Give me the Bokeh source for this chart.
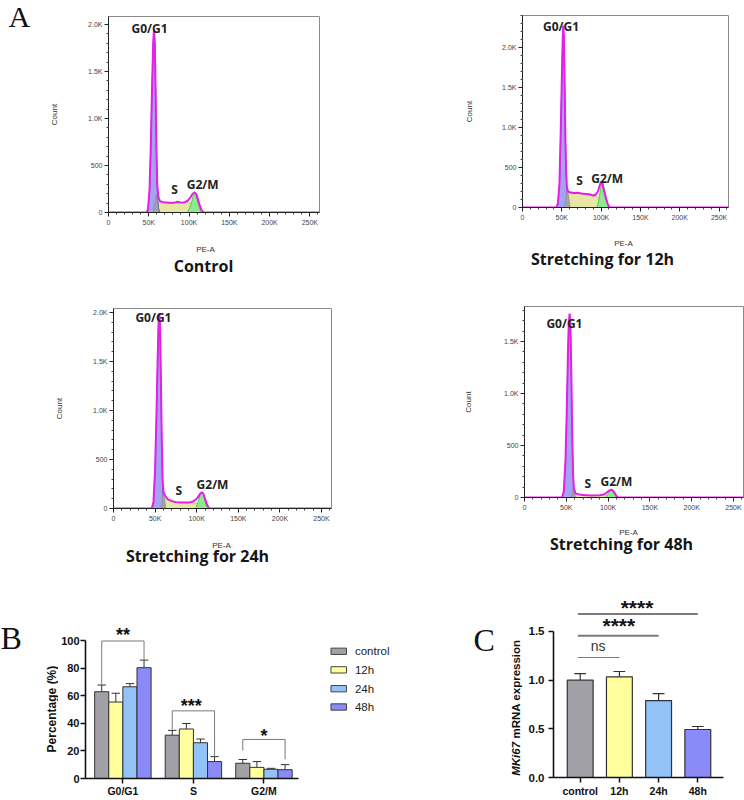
import math
from bokeh.plotting import figure
from bokeh.layouts import row, column
from bokeh.models import Range1d, FixedTicker
from bokeh.core.properties import value
from bokeh.embed import file_html
from bokeh.resources import INLINE

# ---------------- Panel A data (x: PE-A in thousands, y: count) ----------------
CTRL_TOT_X = [0, 47, 49, 51, 52.5, 54, 55.5, 56.5, 57.5, 58.5, 59.5, 60.5, 62, 64, 68, 75, 82, 86, 90, 95, 99, 102, 104.5, 107, 109, 111, 113, 115.5, 118, 262]
CTRL_TOT_Y = [0, 0, 30, 250, 700, 1300, 1800, 1950, 1800, 1300, 700, 300, 160, 120, 110, 105, 105, 115, 105, 110, 130, 165, 200, 215, 195, 140, 80, 25, 0, 0]
CTRL_G1_X = [47, 49, 51, 52.5, 54, 55.5, 56.5, 57.5, 58.5, 59.5, 60.5, 62, 63.5]
CTRL_G1_Y = [0, 25, 240, 690, 1290, 1790, 1940, 1790, 1290, 690, 260, 60, 0]
CTRL_GRAY_X = [55.5, 59.5, 62.5]
CTRL_GRAY_Y = [0, 190, 0]
CTRL_S_X = [58, 60, 62, 65, 70, 78, 86, 94, 100, 103, 106, 108]
CTRL_S_Y = [0, 150, 140, 110, 103, 100, 105, 105, 110, 95, 45, 0]
CTRL_G2_X = [98, 101, 103.5, 105.5, 107, 108.5, 110.5, 112.5, 115]
CTRL_G2_Y = [0, 50, 120, 185, 210, 190, 130, 60, 0]
CTRL_GATE_X = [51, 82, 117]
CTRL_GATE_Y = [1957, 245, 298]

H12_TOT_X = [0, 43, 45, 47, 48.5, 50, 51, 51.8, 52.6, 53.5, 54.5, 55.5, 56.5, 58, 60, 65, 70, 75, 80, 85, 90, 93, 96, 98, 99.8, 101.5, 103.5, 106, 108.5, 111, 262]
H12_TOT_Y = [0, 0, 50, 300, 900, 1600, 2050, 2270, 2150, 1600, 900, 450, 250, 200, 190, 180, 185, 175, 170, 165, 150, 160, 200, 270, 320, 300, 220, 120, 40, 0, 0]
H12_G1_X = [43, 45, 47, 48.5, 50, 51, 51.8, 52.6, 53.5, 54.5, 55.5, 56.5, 58, 60]
H12_G1_Y = [0, 45, 290, 890, 1590, 2040, 2260, 2140, 1590, 890, 430, 200, 60, 0]
H12_GRAY_X = [53.5, 57, 60.5]
H12_GRAY_Y = [0, 250, 0]
H12_S_X = [55, 57, 60, 65, 70, 75, 80, 85, 90, 94, 97, 100, 102, 104]
H12_S_Y = [0, 200, 185, 175, 180, 170, 165, 160, 145, 140, 125, 80, 30, 0]
H12_G2_X = [95, 97, 99, 100.5, 102, 104, 106, 108, 110.5]
H12_G2_Y = [0, 90, 220, 300, 310, 240, 140, 55, 0]
H12_GATE_X = [49, 72.5, 107.7]
H12_GATE_Y = [2262, 337, 359]

H24_TOT_X = [0, 46, 48, 50, 51.5, 53, 54, 55, 56, 57, 58, 59, 60, 62, 65, 70, 75, 80, 85, 90, 95, 99, 102, 104, 106, 108, 110, 112, 115, 262]
H24_TOT_Y = [0, 0, 60, 400, 900, 1500, 1850, 1990, 1850, 1300, 700, 300, 170, 130, 95, 75, 65, 60, 60, 60, 70, 90, 120, 150, 165, 150, 100, 45, 0, 0]
H24_G1_X = [46, 48, 50, 51.5, 53, 54, 55, 56, 57, 58, 59, 60, 61.5]
H24_G1_Y = [0, 55, 390, 890, 1490, 1840, 1980, 1840, 1290, 690, 250, 60, 0]
H24_GRAY_X = [57, 60, 63]
H24_GRAY_Y = [0, 180, 0]
H24_S_X = [58, 60, 63, 67, 72, 80, 88, 95, 100, 103, 106]
H24_S_Y = [0, 165, 120, 85, 70, 62, 58, 60, 55, 25, 0]
H24_G2_X = [99, 101.5, 104, 106, 108, 110, 113]
H24_G2_Y = [0, 65, 130, 160, 140, 80, 0]
H24_GATE_X = [48, 78.5, 119]
H24_GATE_Y = [1945, 184, 245]

H48_TOT_X = [0, 45, 47, 49, 50.5, 52, 53, 54, 55, 56, 57, 58, 59, 61, 65, 70, 80, 90, 95, 98, 101, 104, 106, 108, 110, 112, 262]
H48_TOT_Y = [0, 0, 60, 350, 800, 1400, 1680, 1770, 1650, 1200, 650, 250, 90, 40, 30, 25, 20, 22, 30, 45, 65, 75, 65, 40, 15, 0, 0]
H48_G1_X = [45, 47, 49, 50.5, 52, 53, 54, 55, 56, 57, 58, 59, 60.5]
H48_G1_Y = [0, 55, 340, 790, 1390, 1670, 1760, 1640, 1190, 640, 240, 80, 0]
H48_GRAY_X = [56, 58.5, 61]
H48_GRAY_Y = [0, 90, 0]
H48_S_X = [58, 60, 63, 70, 80, 90, 96, 100, 103]
H48_S_Y = [0, 45, 30, 22, 18, 20, 22, 15, 0]
H48_G2_X = [97, 100, 102, 104, 106, 108, 111]
H48_G2_Y = [0, 35, 60, 72, 60, 30, 0]
H48_GATE_X = [47.8, 75.7, 110]
H48_GATE_Y = [1677, 138, 157]

GATE_TEXT = ["G0/G1", "S", "G2/M"]
PANEL_TITLES = ["Control", "Stretching for 12h", "Stretching for 24h", "Stretching for 48h"]
HIST_X_TICKS = [0, 50, 100, 150, 200, 250]
HIST_X_LABELS = ["0", "50K", "100K", "150K", "200K", "250K"]
HIST_Y_TICKS = [0, 500, 1000, 1500, 2000]
HIST_Y_LABELS = ["0", "500", "1.0K", "1.5K", "2.0K"]

# ---------------- Panel B data ----------------
B_PHASES = ["G0/G1", "S", "G2/M"]
B_SERIES = ["control", "12h", "24h", "48h"]
B_CONTROL = [63.1, 31.5, 11.1]
B_CONTROL_SD = [4.9, 3.5, 2.7]
B_12H = [55.6, 36.0, 8.1]
B_12H_SD = [6.4, 4.0, 4.2]
B_24H = [66.7, 26.0, 6.7]
B_24H_SD = [2.3, 2.7, 0.7]
B_48H = [80.6, 12.3, 6.4]
B_48H_SD = [5.5, 3.6, 3.7]
B_Y_TICKS = [0, 20, 40, 60, 80, 100]
B_SIG_TEXT = ["**", "***", "*"]
B_SIG_TOP = [100.0, 49.2, 28.4]
B_SIG_LEFT_END = [68.5, 35.5, 20.3]
B_SIG_RIGHT_END = [86.5, 16.0, 14.0]
B_SIG_TEXT_Y = [104.5, 52.6, 31.2]

# ---------------- Panel C data ----------------
C_GROUPS = ["control", "12h", "24h", "48h"]
C_MEAN = [1.00, 1.034, 0.79, 0.493]
C_SD = [0.068, 0.055, 0.072, 0.031]
C_Y_TICKS = [0, 0.5, 1.0, 1.5]
C_Y_LABELS = ["0.0", "0.5", "1.0", "1.5"]
C_SIG_TEXT = ["ns", "****", "****"]
C_SIG_TO = [1, 2, 3]
C_SIG_Y = [1.233, 1.456, 1.68]
C_SIG_TEXT_X = [0.46, 0.985, 1.45]
C_SIG_TEXT_Y = [1.35, 1.563, 1.751]

BAR_COLORS = ["#a0a0a6", "#ffff9e", "#92c2f8", "#8a8af8"]

MAGENTA = "#e61ee6"
BLUE_FILL = "#a2a4f2"
BLUE_EDGE = "#5c5ce8"
GRAY_FILL = "#a4a4a4"
YELLOW_FILL = "#e6e6a6"
YELLOW_EDGE = "#b8b870"
GREEN_FILL = "#8eea8e"
GREEN_EDGE = "#3cbc3c"

SERIF = "Liberation Serif"
SANS = "Liberation Sans"
HEAVY = "Open Sans"


def blank(width, height, y_range=None, bt=0, bb=0):
    """An axis-less figure used only to hold annotation texts."""
    yr = y_range if y_range is not None else Range1d(0, height)
    p = figure(width=width, height=height, x_range=Range1d(0, width), y_range=yr,
               x_axis_type=None, y_axis_type=None, toolbar_location=None,
               output_backend="svg", title=None, min_border_left=0, min_border_right=0,
               min_border_top=bt, min_border_bottom=bb, frame_align=False)
    p.grid.visible = False
    p.outline_line_color = None
    return p


def caption(width, height, pea_x, pea_y, title, title_x, title_y):
    p = blank(width, height)
    p.text(x=[pea_x], y=[pea_y], text=["PE-A"], text_font=value(SANS), text_font_size="8px",
           text_align="center", text_baseline="middle", text_color="#333333")
    p.text(x=[title_x], y=[title_y], text=[title], text_font=value(HEAVY),
           text_font_style="bold", text_font_size="16px", text_align="center",
           text_baseline="middle", text_color="#161616")
    return p


def hist_panel(width, height, bl, br, bt, ymax, tot, g1, gray, s, g2, gates, count_standoff):
    p = figure(width=width, height=height, x_range=Range1d(0, 262), y_range=Range1d(0, ymax),
               toolbar_location=None, output_backend="svg", title=None,
               min_border_left=bl, min_border_right=br, min_border_top=bt, min_border_bottom=20,
               frame_align=False)
    p.grid.visible = False
    p.outline_line_color = "#8a8a8a"
    p.outline_line_width = 1

    p.varea(x=s[0], y1=0, y2=s[1], fill_color=YELLOW_FILL)
    p.line(s[0], s[1], line_color=YELLOW_EDGE, line_width=0.8)
    p.varea(x=g2[0], y1=0, y2=g2[1], fill_color=GREEN_FILL)
    p.line(g2[0], g2[1], line_color=GREEN_EDGE, line_width=0.8)
    p.varea(x=g1[0], y1=0, y2=g1[1], fill_color=BLUE_FILL)
    p.line(g1[0], g1[1], line_color=BLUE_EDGE, line_width=1)
    p.patch(gray[0], gray[1], fill_color=GRAY_FILL, line_color="#888888", line_width=0.6)
    p.line(tot[0], tot[1], line_color=MAGENTA, line_width=2)

    p.text(x=gates[0], y=gates[1], text=GATE_TEXT, text_font=value(HEAVY),
           text_font_style="bold", text_font_size="12px", text_align="center",
           text_baseline="middle", text_color="#222222")

    yt = [t for t in HIST_Y_TICKS if t <= ymax]
    p.xaxis.ticker = FixedTicker(ticks=HIST_X_TICKS,
                                 minor_ticks=[v for v in range(0, 261, 10) if v % 50])
    p.xaxis.major_label_overrides = dict(zip(HIST_X_TICKS, HIST_X_LABELS))
    p.yaxis.ticker = FixedTicker(ticks=yt,
                                 minor_ticks=[v for v in range(0, int(ymax) + 1, 100) if v % 500])
    p.yaxis.major_label_overrides = dict(zip(HIST_Y_TICKS, HIST_Y_LABELS))
    for ax in (p.xaxis, p.yaxis):
        ax.axis_line_color = "#222222"
        ax.axis_line_width = 1
        ax.major_tick_line_color = "#222222"
        ax.minor_tick_line_color = "#444444"
        ax.major_tick_out = 4
        ax.major_tick_in = 0
        ax.minor_tick_out = 2
        ax.minor_tick_in = 0
        ax.major_label_text_font = SANS
        ax.major_label_text_font_size = "7px"
        ax.major_label_text_color = "#444444"
        ax.major_label_standoff = 2
    p.yaxis.axis_label = "Count"
    p.yaxis.axis_label_text_font = SANS
    p.yaxis.axis_label_text_font_size = "8px"
    p.yaxis.axis_label_text_font_style = "normal"
    p.yaxis.axis_label_text_color = "#333333"
    p.yaxis.axis_label_standoff = count_standoff
    return p


# ---------------- Row 1 (page y 0..298) ----------------
stripA = blank(40, 298)
stripA.text(x=[8], y=[282], text=["A"], text_font=value(SERIF), text_font_size="30px",
            text_align="left", text_baseline="middle", text_color="#111111")

fA1 = hist_panel(340, 232, 68, 61, 16, 2085,
                 (CTRL_TOT_X, CTRL_TOT_Y), (CTRL_G1_X, CTRL_G1_Y), (CTRL_GRAY_X, CTRL_GRAY_Y),
                 (CTRL_S_X, CTRL_S_Y), (CTRL_G2_X, CTRL_G2_Y), (CTRL_GATE_X, CTRL_GATE_Y), 26)
cA1 = caption(340, 66, 165, 49, PANEL_TITLES[0], 163, 33)

fA2 = hist_panel(364, 227, 142, 16, 15, 2400,
                 (H12_TOT_X, H12_TOT_Y), (H12_G1_X, H12_G1_Y), (H12_GRAY_X, H12_GRAY_Y),
                 (H12_S_X, H12_S_Y), (H12_G2_X, H12_G2_Y), (H12_GATE_X, H12_GATE_Y), 25)
cA2 = caption(364, 71, 243, 55, PANEL_TITLES[1], 222, 39.5)

# ---------------- Row 2 (page y 298..573) ----------------
fA3 = hist_panel(380, 230, 113, 49, 10, 2040,
                 (H24_TOT_X, H24_TOT_Y), (H24_G1_X, H24_G1_Y), (H24_GRAY_X, H24_GRAY_Y),
                 (H24_S_X, H24_S_Y), (H24_G2_X, H24_G2_Y), (H24_GATE_X, H24_GATE_Y), 26)
cA3 = caption(380, 45, 221, 28, PANEL_TITLES[2], 197, 17.5)

fA4 = hist_panel(364, 219, 144, 1, 8, 1837,
                 (H48_TOT_X, H48_TOT_Y), (H48_G1_X, H48_G1_Y), (H48_GRAY_X, H48_GRAY_Y),
                 (H48_S_X, H48_S_Y), (H48_G2_X, H48_G2_Y), (H48_GATE_X, H48_GATE_Y), 28)
cA4 = caption(364, 56, 248, 41, PANEL_TITLES[3], 241, 30)

# ---------------- Panel B (page y 573..800) ----------------
B_YMAX = 114.9
pB = figure(width=402, height=227, x_range=Range1d(-0.53, 3.936), y_range=Range1d(0, B_YMAX),
            toolbar_location=None, output_backend="svg", title=None, frame_align=False,
            min_border_left=26, min_border_right=60, min_border_top=47, min_border_bottom=22)
pB.grid.visible = False
pB.outline_line_color = None
B_VALUES = [B_CONTROL, B_12H, B_24H, B_48H]
B_SDS = [B_CONTROL_SD, B_12H_SD, B_24H_SD, B_48H_SD]
B_OFFSETS = [-0.3, -0.1, 0.1, 0.3]
for i in range(4):
    xs = [g + B_OFFSETS[i] for g in range(3)]
    tops = [m + s for m, s in zip(B_VALUES[i], B_SDS[i])]
    pB.segment(x0=xs, y0=B_VALUES[i], x1=xs, y1=tops, line_color="#333333", line_width=1)
    pB.segment(x0=[x - 0.06 for x in xs], y0=tops, x1=[x + 0.06 for x in xs], y1=tops,
               line_color="#333333", line_width=1)
    pB.vbar(x=xs, top=B_VALUES[i], width=0.2, fill_color=BAR_COLORS[i],
            line_color="#333333", line_width=1)

br_xs = [[g - 0.3, g - 0.3, g + 0.3, g + 0.3] for g in range(3)]
br_ys = [[B_SIG_LEFT_END[g], B_SIG_TOP[g], B_SIG_TOP[g], B_SIG_RIGHT_END[g]] for g in range(3)]
pB.multi_line(xs=br_xs, ys=br_ys, line_color="#7a7a7a", line_width=1)
pB.text(x=[0, 0.97, 2.0], y=B_SIG_TEXT_Y, text=B_SIG_TEXT,
        text_font=value(SANS), text_font_style="bold", text_font_size="18px",
        text_align="center", text_baseline="alphabetic", text_color="#111111")

LEG_Y = [92.5, 79.0, 65.3, 52.0]
pB.quad(left=[2.95] * 4, right=[3.17] * 4, bottom=[v - 2.3 for v in LEG_Y],
        top=[v + 2.3 for v in LEG_Y], fill_color=BAR_COLORS, line_color="#444444", line_width=1)
pB.text(x=[3.29] * 4, y=LEG_Y, text=B_SERIES, text_font=value(SANS), text_font_size="11.5px",
        text_align="left", text_baseline="middle", text_color="#222222")

pB.yaxis.ticker = FixedTicker(ticks=B_Y_TICKS)
pB.yaxis.bounds = (0, 100)
pB.xaxis.ticker = FixedTicker(ticks=[0, 1, 2])
pB.xaxis.major_label_overrides = {i: B_PHASES[i] for i in range(3)}
pB.xaxis.bounds = (-0.53, 2.49)
for ax in (pB.xaxis, pB.yaxis):
    ax.axis_line_color = "#111111"
    ax.axis_line_width = 1.6
    ax.major_tick_line_color = "#111111"
    ax.major_tick_line_width = 1.5
    ax.major_tick_out = 5
    ax.major_tick_in = 0
    ax.minor_tick_line_color = None
    ax.major_label_text_font = SANS
    ax.major_label_text_font_style = "bold"
    ax.major_label_text_color = "#111111"
    ax.major_label_standoff = 1
pB.yaxis.major_label_text_font_size = "11px"
pB.xaxis.major_label_text_font_size = "10.5px"

stripB = blank(58, 227, y_range=Range1d(0, B_YMAX), bt=47, bb=22)
stripB.text(x=[0], y=[102.2], text=["B"], text_font=value(SERIF), text_font_size="32px",
            text_align="left", text_baseline="middle", text_color="#111111")
stripB.text(x=[51.7], y=[50.5], text=["Percentage (%)"], text_font=value(SANS),
            text_font_style="bold", text_font_size="12px", angle=math.pi / 2,
            text_align="center", text_baseline="middle", text_color="#111111")

# ---------------- Panel C ----------------
C_YMAX = 1.88
pC = figure(width=220, height=227, x_range=Range1d(-0.681, 4.089), y_range=Range1d(0, C_YMAX),
            toolbar_location=None, output_backend="svg", title=None, frame_align=False,
            min_border_left=29, min_border_right=4, min_border_top=21, min_border_bottom=23)
pC.grid.visible = False
pC.outline_line_color = None
cx = list(range(4))
c_tops = [m + s for m, s in zip(C_MEAN, C_SD)]
pC.segment(x0=cx, y0=C_MEAN, x1=cx, y1=c_tops, line_color="#333333", line_width=1.2)
pC.segment(x0=[x - 0.15 for x in cx], y0=c_tops, x1=[x + 0.15 for x in cx], y1=c_tops,
           line_color="#333333", line_width=1.2)
pC.vbar(x=cx, top=C_MEAN, width=0.66, fill_color=BAR_COLORS, line_color="#333333", line_width=1.2)

pC.multi_line(xs=[[-0.06, t] for t in C_SIG_TO], ys=[[y, y] for y in C_SIG_Y],
              line_color="#7a7a7a", line_width=[1.2, 2, 2])
pC.text(x=C_SIG_TEXT_X[:1], y=C_SIG_TEXT_Y[:1], text=C_SIG_TEXT[:1], text_font=value(SANS),
        text_font_size="14px", text_align="center", text_baseline="alphabetic",
        text_color="#333333")
pC.text(x=C_SIG_TEXT_X[1:], y=C_SIG_TEXT_Y[1:], text=C_SIG_TEXT[1:], text_font=value(SANS),
        text_font_style="bold", text_font_size="21px", text_align="center",
        text_baseline="alphabetic", text_color="#111111")

pC.yaxis.ticker = FixedTicker(ticks=C_Y_TICKS)
pC.yaxis.major_label_overrides = dict(zip(C_Y_TICKS, C_Y_LABELS))
pC.yaxis.bounds = (0, 1.5)
pC.xaxis.ticker = FixedTicker(ticks=cx)
pC.xaxis.major_label_overrides = {i: C_GROUPS[i] for i in cx}
pC.xaxis.bounds = (-0.681, 3.65)
for ax in (pC.xaxis, pC.yaxis):
    ax.axis_line_color = "#111111"
    ax.axis_line_width = 1.6
    ax.major_tick_line_color = "#111111"
    ax.major_tick_line_width = 1.5
    ax.major_tick_out = 5
    ax.major_tick_in = 0
    ax.minor_tick_line_color = None
    ax.major_label_text_font = SANS
    ax.major_label_text_font_style = "bold"
    ax.major_label_text_color = "#111111"
pC.yaxis.major_label_standoff = 4
pC.xaxis.major_label_standoff = 2
pC.yaxis.major_label_text_font_size = "11.5px"
pC.xaxis.major_label_text_font_size = "10.5px"

stripC = blank(64, 227, y_range=Range1d(0, C_YMAX), bt=21, bb=23)
stripC.text(x=[13], y=[1.415], text=["C"], text_font=value(SERIF), text_font_size="32px",
            text_align="left", text_baseline="middle", text_color="#111111")
stripC.text(x=[55], y=[0.017], text=["MKi67"], text_font=value(SANS),
            text_font_style="bold italic", text_font_size="11.5px", angle=math.pi / 2,
            text_align="left", text_baseline="middle", text_color="#111111")
stripC.text(x=[55], y=[0.40], text=["mRNA expression"], text_font=value(SANS),
            text_font_style="bold", text_font_size="11.5px", angle=math.pi / 2,
            text_align="left", text_baseline="middle", text_color="#111111")

layout = column(
    row(stripA, column(fA1, cA1), column(fA2, cA2)),
    row(column(fA3, cA3), column(fA4, cA4)),
    row(stripB, pB, stripC, pC),
)
open("out.html", "w").write(file_html(layout, INLINE))
